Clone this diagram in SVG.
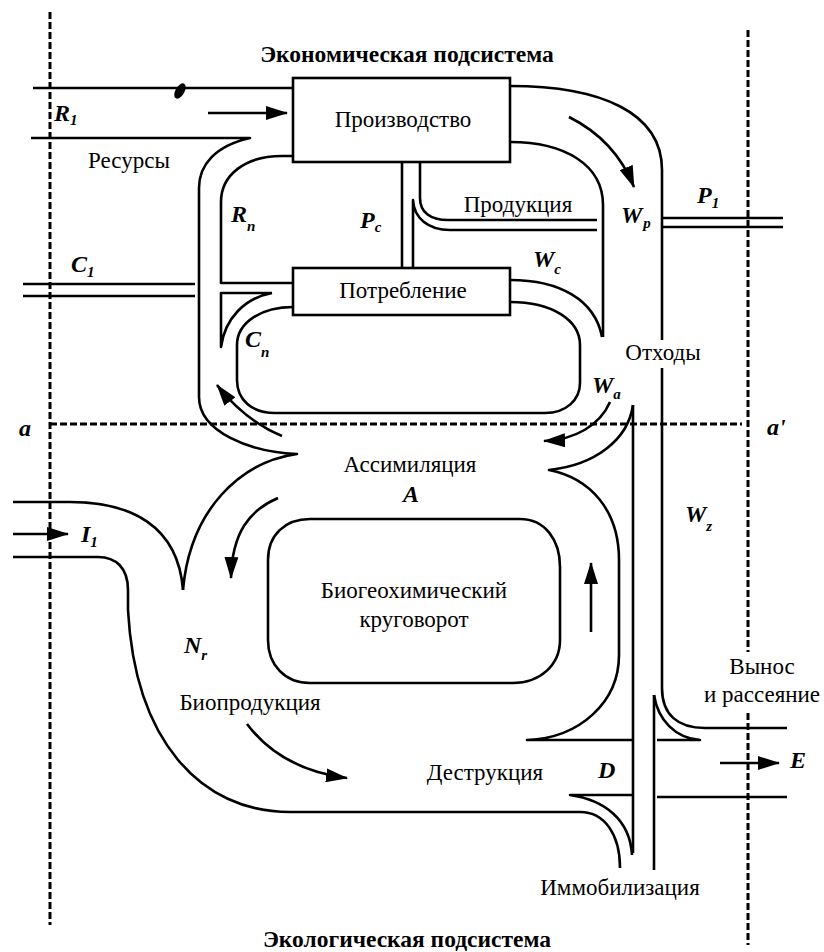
<svg xmlns="http://www.w3.org/2000/svg" width="824" height="952" viewBox="0 0 824 952">
<style>
.s{fill:none;stroke:#000;stroke-width:2.6;stroke-linejoin:round}
.d{fill:none;stroke:#000;stroke-width:3;stroke-dasharray:7 3}
.box{fill:#fff;stroke:#000;stroke-width:2.6}
.ar{fill:none;stroke:#000;stroke-width:2.6;marker-end:url(#ah)}
text{font-family:'Liberation Serif','DejaVu Serif',serif;fill:#000}
.t{font-size:23px;text-anchor:middle}
.h{font-size:23.5px;font-weight:bold;text-anchor:middle}
.v{font-size:24px;font-weight:bold;font-style:italic}
.sub{font-size:15px}
</style>
<defs>
<marker id="ah" markerUnits="userSpaceOnUse" markerWidth="22" markerHeight="14" refX="21" refY="7" orient="auto">
<path d="M0,0 L22,7 L0,14 Z" fill="#000"/>
</marker>
</defs>
<rect width="824" height="952" fill="#fff"/>

<g id="boundaries">
<path class="d" d="M50,12 V925"/>
<path class="d" d="M748,30 V652 M748,713 V945"/>
<path class="d" d="M50,424 H742"/>
</g>

<g id="connectors">
<path class="s" d="M33,88 H293"/>
<path class="s" d="M31,138 H250 C215,146 199,165 199,188 V397 C199,432 250,452 297,454 C240,462 190,510 183,590"/>
<path class="s" d="M293,156 H282 C245,156 221,175 221,202 V283 H293"/>
<path class="s" d="M272,293 H221 V347 C225,318 245,298 272,293"/>
<path class="s" d="M23,284 H195 M23,296 H195"/>
<path class="s" d="M293,307 C262,307 237,322 237,345 V380 C237,400 252,413 275,413 H545 C566,413 580,400 580,383 V345 C580,320 552,302 510,302"/>
<path class="s" d="M510,280 C560,280 595,300 602,337"/>
<path class="s" d="M510,142 C565,142 603,165 603,205 V337"/>
<path class="s" d="M510,86 C600,86 662,112 662,170 V688 C662,715 678,728 705,728 H787"/>
<path class="s" d="M662,218 H783 M662,227 H783"/>
<path class="s" d="M402,162 V268"/>
<path class="s" d="M420,162 V198 C420,212 430,220 448,220 H597"/>
<path class="s" d="M597,230 H450 C428,230 414,218 413,200 V268"/>
<path class="s" d="M633,405 C628,440 595,465 549,470 C590,478 619,510 619,560 V655 C619,702 580,738 527,740 H633"/>
<path class="s" d="M633,405 V853"/>
<path class="s" d="M632,855 C630,820 605,800 570,795 H633"/>
<path class="s" d="M13,502 H70 C130,502 178,525 183,590"/>
<path class="s" d="M13,557 H98 C116,557 128,568 128,590 V610 C135,740 200,812 290,812 H580 C605,812 620,835 620,868"/>
<path class="s" d="M654,695 V870"/>
<path class="s" d="M654,695 C658,720 675,738 700,740 H657"/>
<path class="s" d="M657,797 H787"/>
<path class="ar" d="M208,113 H287"/>
<path class="ar" d="M569,117 C597,131 620,152 634,187"/>
<path class="ar" d="M282,436 C258,426 235,408 217,385"/>
<path class="ar" d="M610,402 C600,425 575,440 544,441"/>
<path class="ar" d="M278,498 C250,510 232,532 231,578"/>
<path class="ar" d="M591,632 V563"/>
<path class="ar" d="M247,724 C268,752 300,772 347,778"/>
<path class="ar" d="M13,534 H68"/>
<path class="ar" d="M720,763 H779"/>
</g>

<g id="production">
<rect class="box" x="293" y="78" width="217" height="84"/>
<text class="t" x="403" y="127">Производство</text>
</g>
<g id="consumption">
<rect class="box" x="293" y="268" width="217" height="47"/>
<text class="t" x="403" y="298">Потребление</text>
</g>
<g id="cycle">
<path class="s" d="M310,519 H520 C545,519 560,540 560,567 V640 C560,665 540,683 513,683 H310 C285,683 268,665 268,640 V560 C268,535 285,519 310,519 Z"/>
<text class="t" x="414" y="598">Биогеохимический</text>
<text class="t" x="414" y="627">круговорот</text>
</g>

<g id="labels">
<ellipse cx="180" cy="91" rx="4.5" ry="8.5" transform="rotate(30 180 91)" fill="#000"/>
<text class="h" x="407" y="62">Экономическая подсистема</text>
<text class="h" x="407" y="947">Экологическая подсистема</text>
<text class="t" x="129" y="168">Ресурсы</text>
<text class="t" x="518" y="212">Продукция</text>
<rect x="620" y="340" width="86" height="28" fill="#fff"/>
<text class="t" x="663" y="360">Отходы</text>
<text class="t" x="410" y="472">Ассимиляция</text>
<text class="t" x="250" y="710">Биопродукция</text>
<text class="t" x="485" y="780">Деструкция</text>
<text class="t" x="620" y="895">Иммобилизация</text>
<text class="t" x="762" y="674">Вынос</text>
<text class="t" x="762" y="702">и рассеяние</text>

<text class="v" x="54" y="121">R<tspan class="sub" dy="4">1</tspan></text>
<text class="v" x="231" y="222">R<tspan class="sub" dy="9">n</tspan></text>
<text class="v" x="360" y="228">P<tspan class="sub" dy="4">c</tspan></text>
<text class="v" x="71" y="272">C<tspan class="sub" dy="5">1</tspan></text>
<text class="v" x="245" y="347">C<tspan class="sub" dy="10">n</tspan></text>
<text class="v" x="621" y="223">W<tspan class="sub" dx="1" dy="5">p</tspan></text>
<text class="v" x="697" y="203">P<tspan class="sub" dy="5">1</tspan></text>
<text class="v" x="533" y="267">W<tspan class="sub" dy="7">c</tspan></text>
<text class="v" x="592" y="393">W<tspan class="sub" dy="6">a</tspan></text>
<text class="v" x="19" y="436">a</text>
<text class="v" x="767" y="435">a'</text>
<text class="v" x="685" y="522">W<tspan class="sub" dy="9">z</tspan></text>
<text class="v" x="403" y="502">A</text>
<text class="v" x="81" y="542">I<tspan class="sub" dy="5">1</tspan></text>
<text class="v" x="184" y="653">N<tspan class="sub" dy="7">r</tspan></text>
<text class="v" x="598" y="778">D</text>
<text class="v" x="790" y="768">E</text>
</g>
</svg>
